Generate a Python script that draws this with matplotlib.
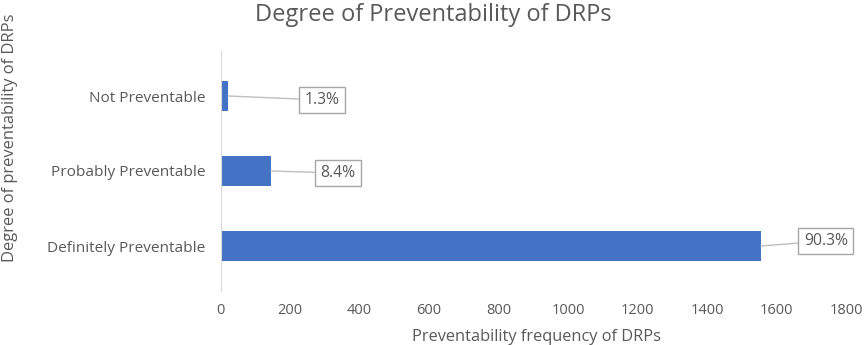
import matplotlib
matplotlib.use("Agg")
import matplotlib.pyplot as plt

categories = ["Definitely Preventable", "Probably Preventable", "Not Preventable"]
values = [1555, 145, 22]
labels = ["90.3%", "8.4%", "1.3%"]
xticks = [0, 200, 400, 600, 800, 1000, 1200, 1400, 1600, 1800]

plt.rcParams['font.family'] = ['Open Sans', 'DejaVu Sans']
TXT = "#595959"

fig = plt.figure(figsize=(8.65, 3.45), dpi=100)
ax = fig.add_axes([220.5/865, 1-283.5/345, 625.5/865, 225/345])

ypos = list(range(len(categories)))
ax.barh(ypos, values, height=0.39, color="#4472C4")
ax.set_xlim(0, 1800)
ax.set_ylim(-0.5, 2.5)
ax.set_xticks(xticks)
ax.set_xticklabels([str(t) for t in xticks])
ax.set_yticks(ypos)
ax.set_yticklabels(categories)
ax.tick_params(axis='x', length=0, labelsize=10.5, colors=TXT, pad=14)
ax.tick_params(axis='y', length=0, labelsize=11.1, colors=TXT, pad=11)
for s in ['top', 'right', 'bottom']:
    ax.spines[s].set_visible(False)
ax.spines['left'].set_color("#D9D9D9")
ax.spines['left'].set_bounds(-0.6, 2.6)

offsets = [(65, 5), (67, -2), (94, -4)]
for y, v, lab, off in zip(ypos, values, labels, offsets):
    ax.annotate(lab, xy=(v, y), xytext=off, textcoords='offset pixels',
                ha='center', va='center', fontsize=11.3, color=TXT,
                bbox=dict(boxstyle='square,pad=0.35', fc='white', ec='#A6A6A6', lw=1),
                arrowprops=dict(arrowstyle='-', color='#BFBFBF', lw=1, shrinkA=0, shrinkB=0))

fig.text(537/865, 1-337/345, "Preventability frequency of DRPs", ha='center', va='center',
         fontsize=11.8, color=TXT)
fig.text(10/865, 1-138/345, "Degree of preventability of DRPs", rotation=90,
         ha='center', va='center', fontsize=11.9, color=TXT)
fig.text(433/865, 1-15/345, "Degree of Preventability of DRPs", ha='center', va='center',
         fontsize=17, color=TXT)

fig.savefig("out.png", dpi=100)
